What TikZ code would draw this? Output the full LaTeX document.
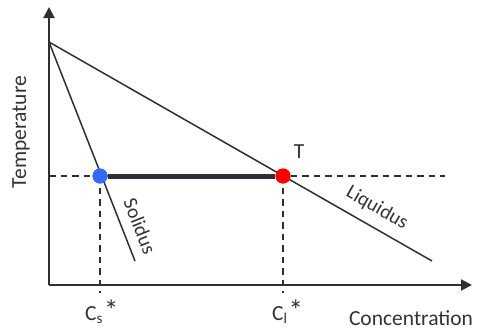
\documentclass[tikz,border=0pt]{standalone}
\usepackage{fontspec}
\setmainfont{Carlito}
\usetikzlibrary{arrows.meta}
\definecolor{ink}{HTML}{2E2E38}
\definecolor{txt}{HTML}{333333}
\definecolor{dotblue}{HTML}{2F6BFF}
\definecolor{dotred}{HTML}{FF0000}
\newcommand{\bigast}{{\fontsize{29}{30}\selectfont *}}
\tikzset{
  axis/.style={draw=ink, line width=2pt, -{Triangle[length=11pt,width=11pt]}},
  curve/.style={draw=ink, line width=1.5pt},
  guide/.style={draw=ink, line width=1.5pt, dash pattern=on 6.5pt off 5pt},
  tie/.style={draw=ink, line width=5pt},
  lbl/.style={text=txt, font=\fontsize{21.5}{24}\selectfont, inner sep=0pt},
  slbl/.style={text=txt, font=\fontsize{20}{22}\selectfont, inner sep=0pt},
  dot/.style={circle, inner sep=0pt, minimum size=15pt}
}
\begin{document}
\begin{tikzpicture}[x=1pt,y=-1pt]
\useasboundingbox (0,0) rectangle (484,332);
% coordinates
\coordinate (O) at (49,285);
\coordinate (Ytop) at (49,7);
\coordinate (Xend) at (472,285);
\coordinate (apex) at (49,42);
\coordinate (liqEnd) at (432,261);
\coordinate (solEnd) at (135,261);
\coordinate (hL) at (49,176);
\coordinate (hR) at (445,176);
\coordinate (vS) at (100,293);
\coordinate (vL) at (283,293);
% axes
\draw[axis] (O) -- (Ytop);
\draw[axis] (O) -- (Xend);
% dashed guides
\draw[guide] (hL) -- (hR);
\draw[guide] (100,176) -- (vS);
\draw[guide] (283,176) -- (vL);
% curves
\draw[curve] (apex) -- (liqEnd);
\draw[curve] (apex) -- (solEnd);
% tie line and dots
\node[dot, fill=dotblue] (cs) at (100,176) {};
\node[dot, fill=dotred] (cl) at (283,176) {};
\draw[tie] (cs.east) -- (cl.west);
\node[dot, fill=dotblue] at (cs) {};
\node[dot, fill=dotred] at (cl) {};
% labels
\node[lbl, rotate=90] (ylab) at (21,132) {Temperature};
\node[lbl] (xlab) at (411,318) {Concentration};
\node[lbl, anchor=base west] (clab) at (272,320) {C\textsubscript{l}\kern1pt\bigast};
\node[lbl, anchor=base west] (slab) at (85,320) {C\textsubscript{s}\kern1pt\bigast};
\node[lbl] (tlab) at (299,152) {T};
\node[slbl, rotate=-68.5] (sol) at (140,226) {Solidus};
\node[slbl, rotate=-29.7] (liq) at (377,208) {Liquidus};
\end{tikzpicture}
\end{document}
